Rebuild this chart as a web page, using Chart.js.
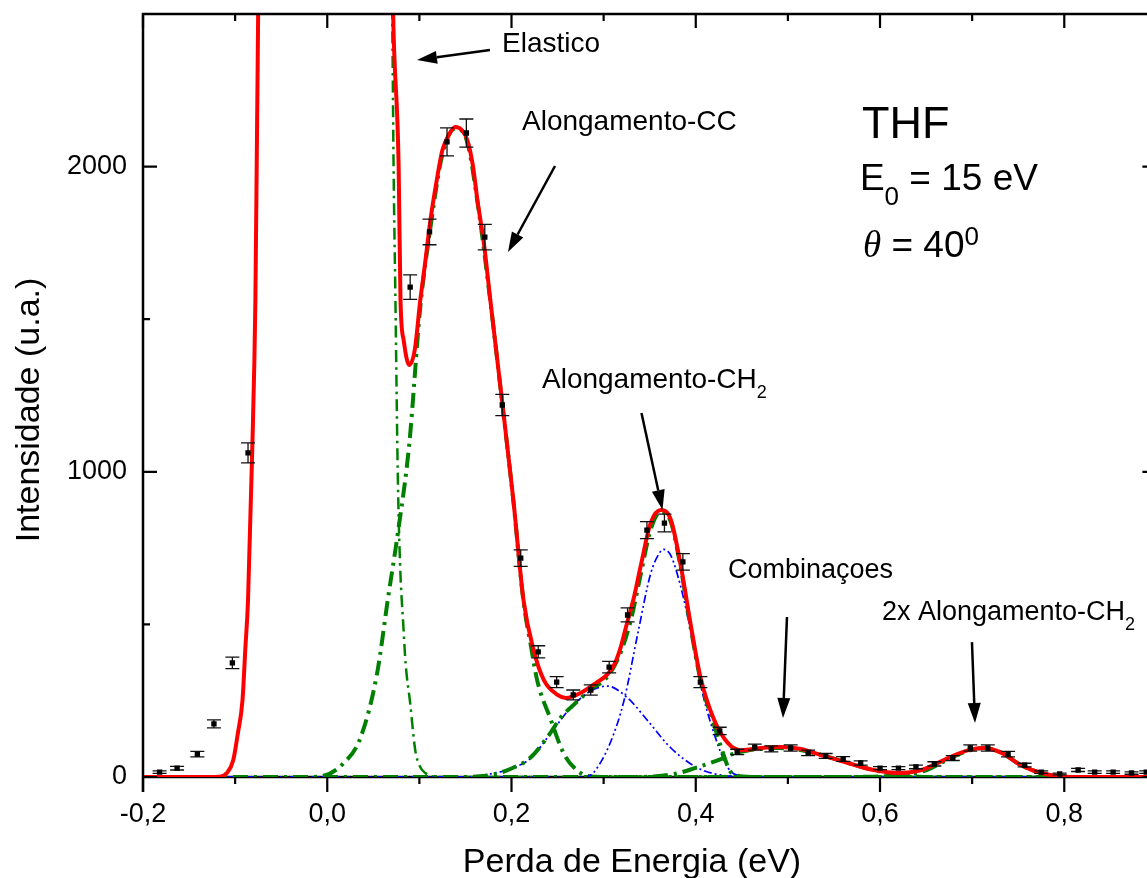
<!DOCTYPE html>
<html><head><meta charset="utf-8">
<script src="https://cdn.jsdelivr.net/npm/chart.js@4.4.1/dist/chart.umd.min.js"></script>
<style>html,body{margin:0;padding:0;overflow:hidden;background:#fff}canvas{display:block}</style>
</head><body>
<canvas id="c" width="1170" height="878"></canvas>
<script>
// ---------- DATA ----------
const xTickValues = [-0.2, 0.0, 0.2, 0.4, 0.6, 0.8];
const xMinorTicks = [-0.1, 0.1, 0.3, 0.5, 0.7];
const yTickValues = [0, 1000, 2000];
const yMinorTicks = [500, 1500];

// experimental points (Perda de Energia, Intensidade, erro)
const expX = [-0.182,-0.163,-0.141,-0.123,-0.103,-0.086,0.090,0.111,0.130,0.151,0.171,0.190,0.210,0.229,0.249,0.267,0.286,0.306,0.326,0.347,0.366,0.386,0.405,0.426,0.445,0.464,0.482,0.503,0.522,0.541,0.560,0.579,0.600,0.620,0.639,0.659,0.679,0.698,0.717,0.739,0.757,0.775,0.795,0.815,0.833,0.853,0.873,0.889];
const expY = [16,29,75,174,374,1062,1605,1786,2081,2110,1769,1219,717,410,311,269,285,360,531,809,832,705,311,151,82,98,92,95,79,69,59,46,29,29,33,43,62,95,95,75,39,16,10,23,16,16,13,16];
const expErr = [4,6,9,13,19,33,40,42,46,46,42,35,27,20,18,16,17,19,23,28,29,27,18,12,9,10,10,10,9,8,8,7,5,5,6,7,8,10,10,9,6,4,3,5,4,4,4,4];

// total fit (red)
const fitX = [-0.20,-0.13,-0.115,-0.109,-0.102,-0.097,-0.092,-0.089,-0.086,-0.0815,-0.078,-0.075,-0.072,0.069,0.0715,0.0775,0.0795,0.083,0.089,0.095,0.101,0.106,0.112,0.118,0.125,0.132,0.139,0.146,0.152,0.158,0.163,0.170,0.177,0.188,0.202,0.213,0.224,0.235,0.250,0.259,0.275,0.293,0.302,0.311,0.318,0.325,0.333,0.340,0.351,0.362,0.373,0.384,0.395,0.405,0.420,0.435,0.449,0.471,0.492,0.514,0.536,0.565,0.593,0.620,0.645,0.674,0.696,0.713,0.732,0.753,0.775,0.797,0.820,0.900];
const fitY = [0,0,2,13,56,144,252,416,580,1062,1563,2500,3000,3000,2500,2000,1563,1430,1350,1400,1563,1678,1825,1940,2054,2104,2130,2120,2087,2005,1890,1750,1563,1278,908,580,416,318,269,259,275,311,330,365,420,500,590,688,832,875,842,688,491,328,187,111,88,95,98,92,72,46,23,13,23,62,88,95,79,39,13,2,0,0];

// elastic component (green, thin dash-dot)
const elasticX = [-0.20,-0.13,-0.115,-0.109,-0.102,-0.097,-0.092,-0.089,-0.086,-0.0815,-0.078,-0.075,-0.072,0.068,0.0705,0.072,0.074,0.0765,0.079,0.0825,0.085,0.090,0.0955,0.1005,0.1064,0.115,0.130,0.900];
const elasticY = [0,0,2,13,56,144,252,416,580,1062,1563,2500,3000,3000,2500,2000,1563,1000,700,500,374,242,88,35,13,2,0,0];

// Alongamento-CC component (green, thick dash-dot)
const ccX = [-0.20,-0.02,-0.005,0.017,0.036,0.054,0.066,0.077,0.089,0.101,0.112,0.125,0.139,0.152,0.163,0.177,0.188,0.202,0.213,0.221,0.228,0.242,0.257,0.272,0.283,0.300,0.900];
const ccY = [0,0,3,43,128,338,587,807,1090,1540,1800,2040,2125,2080,1885,1560,1275,905,575,430,315,193,75,20,3,0,0];

// Alongamento-CH2, broad sub-component (blue)
const ch2BroadX = [-0.20,0.150,0.177,0.200,0.221,0.242,0.264,0.286,0.304,0.326,0.348,0.373,0.402,0.430,0.460,0.900];
const ch2BroadY = [0,0,10,28,62,141,226,282,298,259,184,95,30,5,0,0];

// Alongamento-CH2, narrow sub-component (blue)
const ch2NarrowX = [-0.20,0.270,0.285,0.293,0.308,0.322,0.337,0.351,0.360,0.365,0.373,0.384,0.395,0.405,0.420,0.435,0.449,0.470,0.900];
const ch2NarrowY = [0,0,5,30,118,249,469,666,731,746,725,620,469,305,141,30,3,0,0];

// Alongamento-CH2, sum (green, thick dash-dot)
const ch2SumX = [-0.20,0.150,0.180,0.200,0.220,0.240,0.253,0.272,0.288,0.300,0.310,0.320,0.330,0.340,0.351,0.362,0.373,0.384,0.395,0.405,0.420,0.430,0.437,0.445,0.460,0.900];
const ch2SumY = [0,0,8,28,62,135,193,249,292,315,355,420,520,660,810,868,835,680,480,320,170,75,20,5,0,0];

// Combinacoes component (green, thick dash-dot)
const combX = [-0.20,0.330,0.360,0.380,0.400,0.415,0.430,0.440,0.455,0.470,0.490,0.510,0.530,0.550,0.570,0.590,0.610,0.630,0.660,0.900];
const combY = [0,0,3,12,30,45,62,75,86,92,95,90,77,60,42,25,12,4,0,0];

// 2x Alongamento-CH2 component (green, thick dash-dot)
const ch2x2X = [-0.20,0.560,0.590,0.610,0.630,0.650,0.674,0.696,0.713,0.732,0.753,0.775,0.797,0.820,0.900];
const ch2x2Y = [0,0,1,3,9,22,58,86,95,79,39,13,2,0,0];

// ---------- CHART ----------
const pts = (xs, ys) => xs.map((x, i) => ({x: x, y: ys[i]}));
const FONT = '"Liberation Sans", Arial, sans-serif';
Chart.defaults.font.family = FONT;
Chart.defaults.color = '#000';

const GREEN = '#008000', BLUE = '#0000ff', RED = '#ff0000';
const thinGreen = {borderColor: GREEN, borderWidth: 2.5, borderDash: [12, 5, 2.5, 5]};
const thickGreen = {borderColor: GREEN, borderWidth: 4, borderDash: [15, 6, 3, 6]};
const blueLine = {borderColor: BLUE, borderWidth: 1.7, borderDash: [8, 3, 2, 3, 2, 3]};
const curve = (data, style, order) => Object.assign({
  data: data, showLine: true, pointRadius: 0, fill: false,
  cubicInterpolationMode: 'monotone', order: order, borderCapStyle: 'butt'
}, style);

const errorBars = {
  id: 'errorBars',
  beforeDatasetDraw(chart, args) {
    if (args.index !== 0) return;
    const {ctx, chartArea: a, scales: {x, y}} = chart;
    ctx.save();
    ctx.beginPath(); ctx.rect(a.left, a.top, a.right - a.left, a.bottom - a.top); ctx.clip();
    ctx.strokeStyle = '#111'; ctx.lineWidth = 1.3;
    expX.forEach((xv, i) => {
      const px = x.getPixelForValue(xv);
      const p1 = y.getPixelForValue(expY[i] + expErr[i]);
      const p2 = y.getPixelForValue(expY[i] - expErr[i]);
      ctx.beginPath();
      ctx.moveTo(px, p1); ctx.lineTo(px, p2);
      ctx.moveTo(px - 7, p1); ctx.lineTo(px + 7, p1);
      ctx.moveTo(px - 7, p2); ctx.lineTo(px + 7, p2);
      ctx.stroke();
    });
    ctx.restore();
  }
};

const frame = {
  id: 'frame',
  beforeDatasetsDraw(chart) {
    const {ctx, chartArea: a} = chart;
    ctx.save();
    ctx.strokeStyle = '#000'; ctx.lineWidth = 2.5;
    ctx.beginPath(); ctx.moveTo(a.left, a.bottom); ctx.lineTo(a.right, a.bottom); ctx.stroke();
    ctx.restore();
  },
  afterDatasetsDraw(chart) {
    const {ctx, chartArea: a, scales: {x, y}} = chart;
    ctx.save();
    ctx.strokeStyle = '#000'; ctx.lineWidth = 2.5; ctx.lineCap = 'butt';
    ctx.beginPath();
    ctx.moveTo(a.left, a.bottom + 15); ctx.lineTo(a.left, a.top);
    ctx.lineTo(a.right, a.top); ctx.lineTo(a.right, a.bottom);
    ctx.stroke();
    ctx.lineWidth = 2.2;
    ctx.beginPath();
    xTickValues.forEach(v => { const p = x.getPixelForValue(v);
      ctx.moveTo(p, a.top); ctx.lineTo(p, a.top + 14);
      ctx.moveTo(p, a.bottom); ctx.lineTo(p, a.bottom + 15); });
    xMinorTicks.forEach(v => { const p = x.getPixelForValue(v);
      ctx.moveTo(p, a.top); ctx.lineTo(p, a.top + 7);
      ctx.moveTo(p, a.bottom); ctx.lineTo(p, a.bottom + 7); });
    yTickValues.forEach(v => { const p = y.getPixelForValue(v);
      ctx.moveTo(a.left, p); ctx.lineTo(a.left + 14, p);
      ctx.moveTo(a.right, p); ctx.lineTo(a.right - 14, p); });
    yMinorTicks.forEach(v => { const p = y.getPixelForValue(v);
      ctx.moveTo(a.left, p); ctx.lineTo(a.left + 7, p);
      ctx.moveTo(a.right, p); ctx.lineTo(a.right - 7, p); });
    ctx.stroke();
    ctx.restore();
  },
  afterDraw(chart) {
    const {ctx, scales: {x, y}} = chart;
    const o = chart.options.plugins.frame;
    ctx.save();
    ctx.fillStyle = '#000'; ctx.strokeStyle = '#000';
    ctx.textBaseline = 'alphabetic';
    // axis titles
    ctx.font = '34px ' + FONT; ctx.textAlign = 'center';
    ctx.fillText(o.xTitle.text, o.xTitle.px, o.xTitle.py);
    ctx.save(); ctx.translate(o.yTitle.px, o.yTitle.py); ctx.rotate(-Math.PI / 2);
    ctx.fillText(o.yTitle.text, 0, 0); ctx.restore();
    // annotation texts
    ctx.textAlign = 'left';
    o.texts.forEach(t => {
      let px = x.getPixelForValue(t.x); const py = y.getPixelForValue(t.y);
      t.parts.forEach(p => {
        ctx.font = (p.style || '') + ' ' + p.size + 'px ' + (p.family || FONT);
        ctx.fillText(p.t, px, py + (p.dy || 0));
        px += ctx.measureText(p.t).width;
      });
    });
    // arrows
    ctx.lineWidth = 2.5;
    o.arrows.forEach(ar => {
      const x1 = x.getPixelForValue(ar.x1), y1 = y.getPixelForValue(ar.y1);
      const x2 = x.getPixelForValue(ar.x2), y2 = y.getPixelForValue(ar.y2);
      const ang = Math.atan2(y2 - y1, x2 - x1), L = 20, W = 6.5;
      const bx = x2 - L * Math.cos(ang), by = y2 - L * Math.sin(ang);
      ctx.beginPath(); ctx.moveTo(x1, y1); ctx.lineTo(bx, by); ctx.stroke();
      ctx.beginPath(); ctx.moveTo(x2, y2);
      ctx.lineTo(bx + W * Math.sin(ang), by - W * Math.cos(ang));
      ctx.lineTo(bx - W * Math.sin(ang), by + W * Math.cos(ang));
      ctx.closePath(); ctx.fill();
    });
    ctx.restore();
  }
};

new Chart(document.getElementById('c'), {
  type: 'line',
  data: {
    datasets: [
      {data: pts(expX, expY), showLine: false, pointStyle: 'rect', pointRadius: 3.8,
       pointBackgroundColor: '#000', pointBorderColor: '#000', pointBorderWidth: 0, order: 0},
      curve(pts(fitX, fitY), {borderColor: RED, borderWidth: 4, borderJoinStyle: 'round'}, 1),
      curve(pts(ch2x2X, ch2x2Y), thickGreen, 2),
      curve(pts(combX, combY), thickGreen, 3),
      curve(pts(ch2SumX, ch2SumY), thickGreen, 4),
      curve(pts(ch2NarrowX, ch2NarrowY), blueLine, 5),
      curve(pts(ch2BroadX, ch2BroadY), blueLine, 6),
      curve(pts(ccX, ccY), thickGreen, 7),
      curve(pts(elasticX, elasticY), thinGreen, 8)
    ]
  },
  options: {
    responsive: false, animation: false, events: [],
    layout: {padding: {top: 14, right: 13.6, left: 0, bottom: 0}},
    scales: {
      x: {
        type: 'linear', min: -0.2, max: 0.9,
        grid: {display: false, drawTicks: false}, border: {display: false},
        afterBuildTicks: s => { s.ticks = xTickValues.map(v => ({value: v})); },
        afterFit: s => { s.height = 101; s.paddingLeft = 0; s.paddingRight = 0; },
        ticks: {font: {size: 27, lineHeight: 1.2}, padding: 21, maxRotation: 0, autoSkip: false,
                callback: v => v.toFixed(1).replace('.', ',')}
      },
      y: {
        type: 'linear', min: 0, max: 2500,
        grid: {display: false, drawTicks: false}, border: {display: false},
        afterBuildTicks: s => { s.ticks = yTickValues.map(v => ({value: v})); },
        afterFit: s => { s.width = 143; s.paddingTop = 0; s.paddingBottom = 0; },
        ticks: {font: {size: 27, lineHeight: 0.2}, padding: 16, callback: v => String(v)}
      }
    },
    plugins: {
      legend: {display: false}, tooltip: {enabled: false},
      frame: {
        xTitle: {text: 'Perda de Energia (eV)', px: 632, py: 872},
        yTitle: {text: 'Intensidade (u.a.)', px: 39, py: 410},
        texts: [
          {x: 0.1897, y: 2375, parts: [{t: 'Elastico', size: 28}]},
          {x: 0.2114, y: 2120, parts: [{t: 'Alongamento-CC', size: 28}]},
          {x: 0.5804, y: 2094, parts: [{t: 'THF', size: 45}]},
          {x: 0.5782, y: 1923, parts: [{t: 'E', size: 37}, {t: '0', size: 26, dy: 15}, {t: ' = 15 eV', size: 37}]},
          {x: 0.5815, y: 1704, parts: [{t: '\u03B8', size: 37, style: 'italic', family: '"Liberation Serif", serif'}, {t: ' = 40', size: 37}, {t: '0', size: 26, dy: -12}]},
          {x: 0.2331, y: 1275, parts: [{t: 'Alongamento-CH', size: 28}, {t: '2', size: 18, dy: 10}]},
          {x: 0.4350, y: 652, parts: [{t: 'Combina\u00E7oes', size: 27}]},
          {x: 0.6021, y: 514, parts: [{t: '2x Alongamento-CH', size: 27}, {t: '2', size: 18, dy: 10}]}
        ],
        arrows: [
          {x1: 0.1766, y1: 2382, x2: 0.0974, y2: 2349},
          {x1: 0.2472, y1: 2002, x2: 0.1962, y2: 1720},
          {x1: 0.3411, y1: 1193, x2: 0.3639, y2: 875},
          {x1: 0.4990, y1: 524, x2: 0.4947, y2: 193},
          {x1: 0.6998, y1: 442, x2: 0.7031, y2: 177}
        ]
      }
    }
  },
  plugins: [errorBars, frame]
});
</script>
</body></html>
